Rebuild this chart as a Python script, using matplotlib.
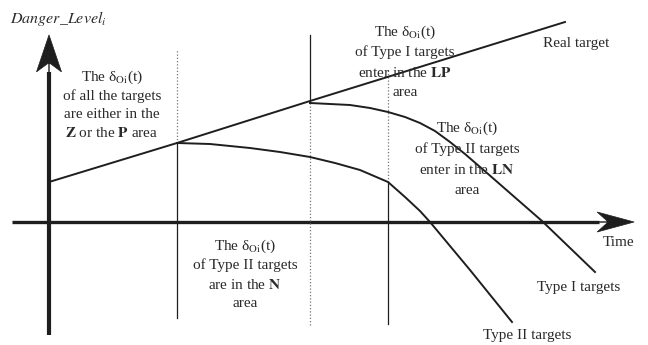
import matplotlib
matplotlib.use('Agg')
import matplotlib.pyplot as plt

plt.rcParams['font.family'] = ['Liberation Serif', 'DejaVu Serif']
plt.rcParams['mathtext.fontset'] = 'stix'

INK = '#1e1e1e'
TXT = '#2a2a2a'

# curves: time on x, danger level on y (time axis at level 0)
real_t = [0, 128, 261, 516]
real_lvl = [40, 79, 121, 200]

type1_t = [261, 281, 301, 321, 339, 356, 371, 386, 401, 416, 438, 493, 546]
type1_lvl = [119, 118, 117, 114, 110, 105, 99, 91, 80, 68, 49, 1, -50]

type2_t = [128, 161, 201, 231, 261, 286, 311, 339, 356, 371, 381, 421, 463]
type2_lvl = [79, 78, 74, 70, 65, 59, 52, 40, 25, 11, 0, -48, -100]

# phase boundaries (time), with the solid and dotted parts of each line
bound_t = [128, 261, 339]
solid_lo = [-96, 119, -102]
solid_hi = [79, 187, 40]
dot_lo = [79, -103, 40]
dot_hi = [172, 119, 152]

fig = plt.figure(figsize=(6.48, 3.45), dpi=100)
ax = fig.add_axes([0, 0, 1, 1])
ax.set_xlim(-49, 599)
ax.set_ylim(-123, 222)
ax.axis('off')

# axes with arrows
ax.plot([0, 0], [-113, 150], color=INK, lw=3.0, solid_capstyle='butt')
ax.arrow(0, 150, 0, 0.1, width=0, head_width=25, head_length=37,
         overhang=0.25, length_includes_head=False, color=INK, lw=0.5)
ax.plot([-37, 550], [0, 0], color=INK, lw=2.4, solid_capstyle='butt')
ax.arrow(548, 0, 0.1, 0, width=0, head_width=20, head_length=37,
         overhang=0.3, length_includes_head=False, color=INK, lw=0.5)

for t, a, b, c, d in zip(bound_t, solid_lo, solid_hi, dot_lo, dot_hi):
    ax.plot([t, t], [a, b], color=INK, lw=0.9)
    ax.plot([t, t], [c, d], color='#777777', lw=0.9, ls=(0, (1, 1.6)))

ax.plot(real_t, real_lvl, color=INK, lw=1.4)
ax.plot(type1_t, type1_lvl, color=INK, lw=1.4)
ax.plot(type2_t, type2_lvl, color=INK, lw=1.4)

delta = r'The δ$_{\mathrm{Oi}}$(t)'
blocks = [
    (63, 145, 18.7, [delta, 'of all the targets', 'are either in the',
                     r'$\mathbf{Z}$ or the $\mathbf{P}$ area']),
    (356, 190, 20.3, [delta, 'of Type I targets',
                      r'enter in the $\mathbf{LP}$', 'area']),
    (418, 94, 21, [delta, 'of Type II targets',
                   r'enter in the $\mathbf{LN}$', 'area']),
    (196, -24, 19.3, [delta, 'of Type II targets',
                      r'are in the $\mathbf{N}$', 'area']),
]
for cx, top, step, lines in blocks:
    for k, s in enumerate(lines):
        ax.text(cx, top - k * step, s, ha='center', va='center',
                fontsize=11, color=TXT)

ax.text(-39, 204, r'$Danger\_Level_i$', fontsize=11.5, color=TXT,
        ha='left', va='center')
ax.text(494, 179, 'Real target', fontsize=11, color=TXT, va='center')
ax.text(554, -21, 'Time', fontsize=11, color=TXT, va='center')
ax.text(488, -65, 'Type I targets', fontsize=11, color=TXT, va='center')
ax.text(434, -113, 'Type II targets', fontsize=11, color=TXT, va='center')

fig.savefig('out.png', dpi=100, facecolor='white')
